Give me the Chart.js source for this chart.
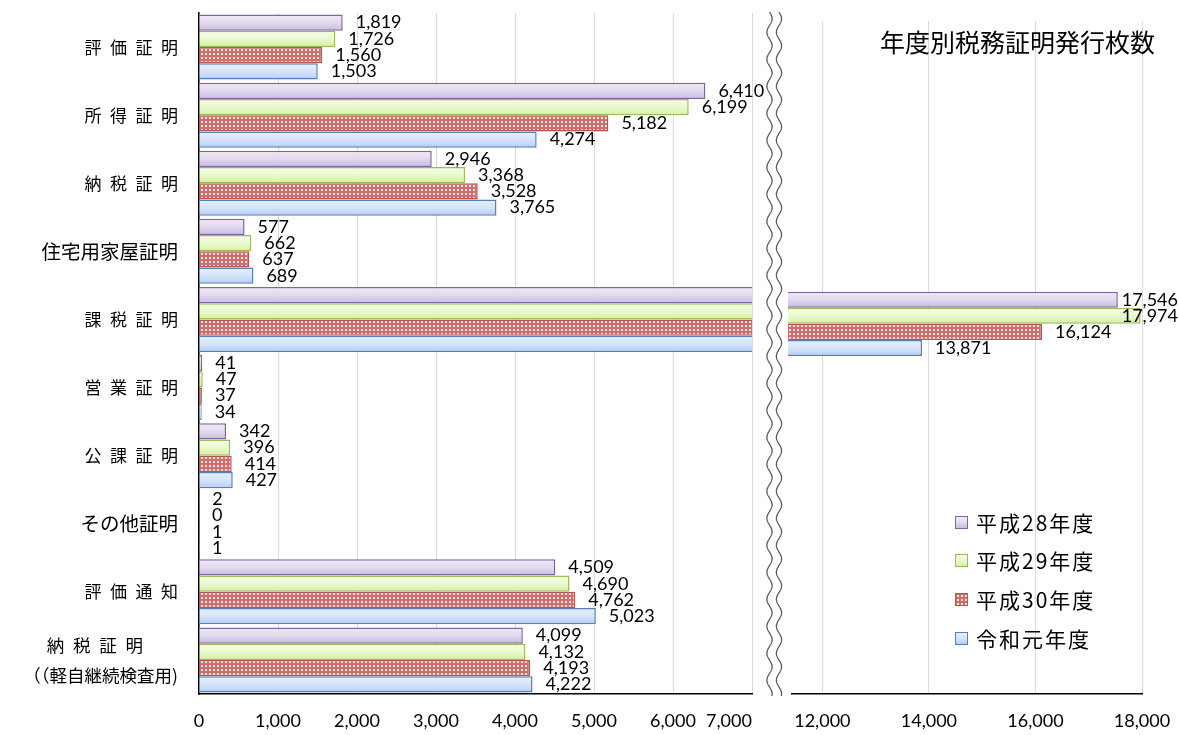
<!DOCTYPE html>
<html>
<head>
<meta charset="utf-8">
<script src="https://cdn.jsdelivr.net/npm/chart.js@4.4.1/dist/chart.umd.min.js"></script>
<style>
html,body{margin:0;padding:0;background:#fff;}
#wrap{position:relative;width:1179px;height:735px;overflow:hidden;background:#fff;}
#wrap canvas{position:absolute;left:0;top:0;}
.title{position:absolute;left:880px;top:29px;font-family:'Noto Sans CJK JP';font-size:25px;line-height:25px;color:#000;white-space:nowrap;}
.leg{position:absolute;left:955px;height:22px;white-space:nowrap;}
.leg .sw{position:absolute;left:0;top:4px;width:11px;height:11px;border:1.5px solid #000;}
.leg .t{position:absolute;left:21px;top:0;font-family:'Noto Sans CJK JP';font-size:21px;line-height:21px;letter-spacing:2px;color:#000;}
</style>
</head>
<body>
<div id="wrap">
  <canvas id="left" width="1179" height="735"></canvas>
  <canvas id="right" width="1179" height="735"></canvas>
  <div class="title">年度別税務証明発行枚数</div>
  <div id="legend"></div>
</div>
<script>
// ---------- data ----------
const categories = [
  '評\u2002価\u2002証\u2002明',
  '所\u2002得\u2002証\u2002明',
  '納\u2002税\u2002証\u2002明',
  '住宅用家屋証明',
  '課\u2002税\u2002証\u2002明',
  '営\u2002業\u2002証\u2002明',
  '公\u2002課\u2002証\u2002明',
  'その他証明',
  '評\u2002価\u2002通\u2002知',
  ['納\u2002税\u2002証\u2002明\u2002\u2002\u2002\u2002', '（（軽自継続検査用)']
];
const seriesNames = ['平成28年度', '平成29年度', '平成30年度', '令和元年度'];
const h28 = [1819, 6410, 2946, 577, 17546, 41, 342, 2, 4509, 4099];
const h29 = [1726, 6199, 3368, 662, 17974, 47, 396, 0, 4690, 4132];
const h30 = [1560, 5182, 3528, 637, 16124, 37, 414, 1, 4762, 4193];
const r1  = [1503, 4274, 3765, 689, 13871, 34, 427, 1, 5023, 4222];
const leftTicks  = [0, 1000, 2000, 3000, 4000, 5000, 6000, 7000];
const rightTicks = [12000, 14000, 16000, 18000];
const leftMin = 0, leftMax = 7000;
const rightMin = 11430, rightMax = 18000;
// ---------------------------

const seriesData = [h28, h29, h30, r1];
const JP = "'Noto Sans CJK JP', 'Noto Sans CJK SC', sans-serif";
const NUM = "Lato, 'Open Sans', sans-serif";
const CAT_PCT = 0.955;
const borders = ['#8064a2', '#9bbb59', '#c0504d', '#4f81bd'];
const gradStops = [
  ['#efeaf6', '#e2d9ef', '#c9bbdf'],
  ['#f6fde8', '#eaf9cf', '#d4efa4'],
  null,
  ['#e9f1fd', '#d5e4fb', '#b5cef5']
];
const fmt = v => v.toLocaleString('en-US');

function makeTile() {
  const t = document.createElement('canvas');
  t.width = 4; t.height = 4;
  const g = t.getContext('2d');
  g.fillStyle = '#d06e6c';
  g.fillRect(0, 0, 4, 4);
  g.fillStyle = '#f8e6e6';
  g.fillRect(1, 1, 2, 2);
  return t;
}
const tile = makeTile();

function fillFor(i) {
  if (i === 2) {
    return (c) => {
      const ch = c.chart;
      if (!ch.$pat) ch.$pat = ch.ctx.createPattern(tile, 'repeat');
      return ch.$pat;
    };
  }
  const stops = gradStops[i];
  return (c) => {
    const ch = c.chart;
    const ys = ch.scales && ch.scales.y;
    if (!ch.chartArea || !ys || c.type !== 'data' || !isFinite(ys.top)) return stops[1];
    const n = categories.length;
    const cat = (ys.bottom - ys.top) / n;
    const bh = cat * CAT_PCT / seriesNames.length;
    const center = ys.getPixelForValue(c.dataIndex);
    const t = center - cat * CAT_PCT / 2 + bh * i;
    const g = ch.ctx.createLinearGradient(0, t, 0, t + bh);
    g.addColorStop(0, stops[0]);
    g.addColorStop(0.5, stops[1]);
    g.addColorStop(1, stops[2]);
    return g;
  };
}

function makeDatasets(filter) {
  return seriesNames.map((name, i) => ({
    label: name,
    data: seriesData[i].map(filter),
    backgroundColor: fillFor(i),
    borderColor: borders[i],
    borderWidth: 1.5,
    borderSkipped: 'start',
    categoryPercentage: CAT_PCT,
    barPercentage: 1,
    clip: {left: 4, right: 0, top: 4, bottom: 4}
  }));
}

const valueLabels = {
  id: 'valueLabels',
  afterDatasetsDraw(chart) {
    const ctx = chart.ctx;
    const xs = chart.scales.x;
    ctx.save();
    ctx.font = '18px ' + NUM;
    ctx.fillStyle = '#000';
    ctx.textAlign = 'left';
    ctx.textBaseline = 'middle';
    chart.data.datasets.forEach((ds, i) => {
      const meta = chart.getDatasetMeta(i);
      meta.data.forEach((el, j) => {
        const v = ds.data[j];
        if (v === null || v === undefined) return;
        if (v > xs.max) return;
        const txt = fmt(v);
        const w = ctx.measureText(txt).width;
        const x = Math.min(el.x + 13, chart.width - w - 1);
        ctx.fillText(txt, x, el.y);
      });
    });
    ctx.restore();
  }
};

const breakMark = {
  id: 'breakMark',
  afterDraw(chart) {
    const ctx = chart.ctx;
    const a = chart.chartArea;
    ctx.save();
    ctx.strokeStyle = '#5a5a5a';
    ctx.lineWidth = 1.3;
    const y0 = a.top - 9, y1 = a.bottom + 2;
    [a.left - 22.5, a.left - 13].forEach(x0 => {
      ctx.beginPath();
      for (let y = y0; y <= y1; y += 0.5) {
        const x = x0 + 2.6 * Math.sin((y - y0) / 27 * 2 * Math.PI);
        if (y === y0) ctx.moveTo(x, y); else ctx.lineTo(x, y);
      }
      ctx.stroke();
    });
    ctx.restore();
  }
};

Chart.defaults.font.family = NUM;
Chart.defaults.color = '#000';

const yFont = (c) => {
  const i = c && c.index;
  if (i === 3 || i === 7) return {family: JP, size: 19.5};
  if (i === 9) return {family: JP, size: 17.5, lineHeight: 1.72};
  return {family: JP, size: 17};
};

// left panel
new Chart(document.getElementById('left'), {
  type: 'bar',
  data: { labels: categories, datasets: makeDatasets(v => v) },
  options: {
    indexAxis: 'y',
    responsive: false,
    animation: false,
    events: [],
    layout: { padding: { left: 0, right: 427, top: 13, bottom: 0 } },
    plugins: { legend: { display: false }, tooltip: { enabled: false } },
    scales: {
      x: {
        min: leftMin, max: leftMax,
        afterBuildTicks: (s) => { s.ticks = leftTicks.map(v => ({value: v})); },
        afterFit: (s) => { s.height = 41; s.paddingLeft = 0; s.paddingRight = 0; },
        grid: { color: '#d9d9d9', lineWidth: 1, drawTicks: false },
        border: { display: true, color: '#000', width: 1.5 },
        ticks: {
          padding: 16, color: '#000', font: { family: NUM, size: 18 },
          maxRotation: 0, autoSkip: false,
          callback: (v) => v === leftMax ? fmt(v) + '          ' : fmt(v)
        }
      },
      y: {
        afterFit: (s) => { s.width = 199; s.paddingTop = 0; s.paddingBottom = 0; },
        grid: { display: false, drawTicks: false },
        border: { display: true, color: '#000', width: 1.5 },
        ticks: { padding: 21, color: '#000', font: yFont, autoSkip: false }
      }
    }
  },
  plugins: [valueLabels]
});

// right panel
new Chart(document.getElementById('right'), {
  type: 'bar',
  data: { labels: categories, datasets: makeDatasets(v => v > leftMax ? v : null) },
  options: {
    indexAxis: 'y',
    responsive: false,
    animation: false,
    events: [],
    layout: { padding: { left: 792, right: 37, top: 21, bottom: 0 } },
    plugins: { legend: { display: false }, tooltip: { enabled: false } },
    scales: {
      x: {
        min: rightMin, max: rightMax,
        afterBuildTicks: (s) => { s.ticks = rightTicks.map(v => ({value: v})); },
        afterFit: (s) => { s.height = 41; s.paddingLeft = 0; s.paddingRight = 0; },
        grid: { color: '#d9d9d9', lineWidth: 1, drawTicks: false },
        border: { display: true, color: '#000', width: 1.5 },
        ticks: {
          padding: 16, color: '#000', font: { family: NUM, size: 18 },
          maxRotation: 0, autoSkip: false,
          callback: (v) => fmt(v)
        }
      },
      y: { display: false }
    }
  },
  plugins: [valueLabels, breakMark]
});

// legend (HTML)
const legendCenters = [523, 561, 600, 639];
const legendEl = document.getElementById('legend');
seriesNames.forEach((name, i) => {
  const item = document.createElement('div');
  item.className = 'leg';
  item.style.top = (legendCenters[i] - 11) + 'px';
  const sw = document.createElement('div');
  sw.className = 'sw';
  sw.style.borderColor = borders[i];
  if (i === 2) {
    sw.style.backgroundImage = 'url(' + tile.toDataURL() + ')';
  } else {
    const s = gradStops[i];
    sw.style.background = 'linear-gradient(' + s[0] + ',' + s[1] + ',' + s[2] + ')';
  }
  const t = document.createElement('span');
  t.className = 't';
  t.textContent = name;
  item.appendChild(sw);
  item.appendChild(t);
  legendEl.appendChild(item);
});
</script>
</body>
</html>
